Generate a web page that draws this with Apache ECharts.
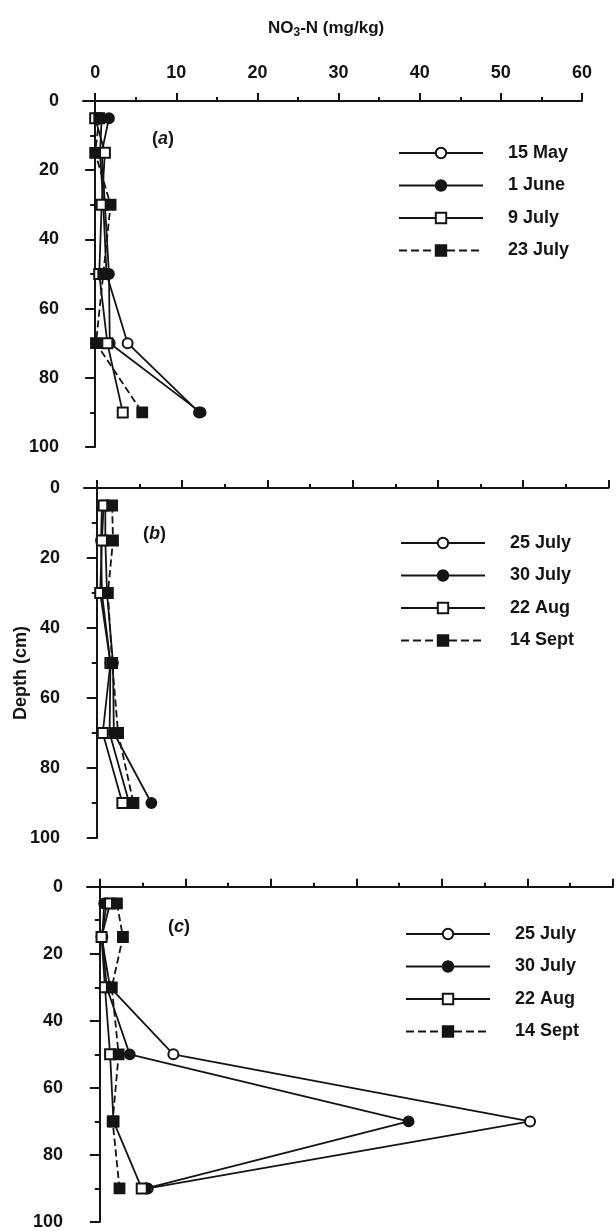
<!DOCTYPE html>
<html>
<head>
<meta charset="utf-8">
<script src="https://cdn.jsdelivr.net/npm/echarts@6/dist/echarts.min.js"></script>
<style>
html,body{margin:0;padding:0;background:#fff;}
#chart{width:616px;height:1231px;}
</style>
</head>
<body>
<div id="chart"></div>
<script>
// Depths (cm) of each sample
const depths = [5, 15, 30, 50, 70, 90];

// Panel (a) NO3-N (mg/kg)
const a_names = ['15 May', '1 June', '9 July', '23 July'];
const a_15May  = [0.8, 0.6, 1.0, 1.4, 4.0, 12.8];
const a_1June  = [1.7, 0.8, 1.2, 1.7, 1.8, 13.0];
const a_9July  = [0.0, 1.2, 0.8, 0.5, 1.5, 3.4];
const a_23July = [0.5, 0.0, 1.9, 1.0, 0.1, 5.8];

// Panel (b)
const b_names = ['25 July', '30 July', '22 Aug', '14 Sept'];
const b_25July = [0.6, 0.5, 0.6, 1.6, 1.5, 3.8];
const b_30July = [1.0, 1.0, 1.2, 1.9, 2.0, 6.4];
const b_22Aug  = [0.8, 0.6, 0.4, 1.6, 0.7, 3.0];
const b_14Sept = [1.8, 1.9, 1.3, 1.8, 2.5, 4.3];

// Panel (c)
const c_names = ['25 July', '30 July', '22 Aug', '14 Sept'];
const c_25July = [0.8, 0.2, 1.2, 8.6, 50.3, 5.6];
const c_30July = [0.5, 0.3, 0.8, 3.5, 36.1, 5.4];
const c_22Aug  = [1.2, 0.2, 0.6, 1.2, 1.6, 4.9];
const c_14Sept = [2.0, 2.7, 1.4, 2.2, 1.5, 2.3];

// Axis ticks / labels
const xMajor = [0, 10, 20, 30, 40, 50, 60];
const xMinor = [5, 15, 25, 35, 45, 55];
const yMajor = [0, 20, 40, 60, 80, 100];
const yMinor = [10, 30, 50, 70, 90];

const INK = '#141414';
const FONT = 'Liberation Sans';

const symbols = ['emptyCircle', 'circle', 'emptyRect', 'rect'];
const lineTypes = ['solid', 'solid', 'solid', 'dashed'];

const panels = [
  { names: a_names, vals: [a_15May, a_1June, a_9July, a_23July], grid: {left: 83, top: 94, width: 499, height: 353}, showX: true,
    legend: {left: 398, top: 144} },
  { names: b_names, vals: [b_25July, b_30July, b_22Aug, b_14Sept], grid: {left: 84, top: 481, width: 524.5, height: 357}, showX: false,
    legend: {left: 400, top: 534} },
  { names: c_names, vals: [c_25July, c_30July, c_22Aug, c_14Sept], grid: {left: 87, top: 880, width: 526, height: 345}, showX: false,
    legend: {left: 405, top: 925} }
];

const grid = [], xAxis = [], yAxis = [], series = [], legend = [];
panels.forEach((p, i) => {
  grid.push(Object.assign({containLabel: false}, p.grid));
  const axLine = {show: true, lineStyle: {color: INK, width: 2}};
  // main x axis
  xAxis.push({
    type: 'value', gridIndex: i, position: 'top', min: -1.5, max: 60,
    axisLine: Object.assign({}, axLine, {onZero: true, onZeroAxisIndex: 2 * i}),
    axisTick: {show: true, length: 8, lineStyle: {color: INK, width: 2}, customValues: xMajor},
    axisLabel: {show: p.showX, customValues: xMajor, margin: 12, color: INK, fontFamily: FONT, fontSize: 18, fontWeight: 'bold'},
    splitLine: {show: false}
  });
  // minor x ticks
  xAxis.push({
    type: 'value', gridIndex: i, position: 'top', offset: 0, min: -1.5, max: 60,
    axisLine: {show: false, onZero: true, onZeroAxisIndex: 2 * i},
    axisTick: {show: true, length: 4, lineStyle: {color: INK, width: 2}, customValues: xMinor},
    axisLabel: {show: false}, splitLine: {show: false}
  });
  // main y axis
  yAxis.push({
    type: 'value', gridIndex: i, position: 'left', inverse: true, min: -2, max: 100,
    axisLine: Object.assign({}, axLine, {onZero: true, onZeroAxisIndex: 2 * i}),
    axisTick: {show: true, length: 10, lineStyle: {color: INK, width: 2}, customValues: yMajor},
    axisLabel: {show: true, customValues: yMajor, margin: 24, color: INK, fontFamily: FONT, fontSize: 18, fontWeight: 'bold'},
    splitLine: {show: false}
  });
  // minor y ticks
  yAxis.push({
    type: 'value', gridIndex: i, position: 'left', offset: 0, inverse: true, min: -2, max: 100,
    axisLine: {show: false, onZero: true, onZeroAxisIndex: 2 * i},
    axisTick: {show: true, length: 5, lineStyle: {color: INK, width: 2}, customValues: yMinor},
    axisLabel: {show: false}, splitLine: {show: false}
  });
  p.names.forEach((nm, k) => {
    series.push({
      type: 'line', name: nm, xAxisIndex: 2 * i, yAxisIndex: 2 * i,
      data: depths.map((d, j) => [p.vals[k][j], d]),
      symbol: symbols[k], symbolSize: 10,
      lineStyle: {color: INK, width: 1.8, type: lineTypes[k]},
      itemStyle: {color: INK, borderColor: INK, borderWidth: 1.8},
      z: 2 + k
    });
  });
  legend.push({
    orient: 'vertical', left: p.legend.left, top: p.legend.top, padding: 0,
    itemWidth: 84, itemHeight: 13, itemGap: 14.5,
    data: p.names.slice(),
    selectedMode: false,
    textStyle: {color: INK, fontFamily: FONT, fontSize: 18, fontWeight: 'bold', padding: [0, 0, 0, 20]}
  });
});

const labelFont = {fontFamily: FONT, fontSize: 18, fontWeight: 'bold', color: INK};
const title = [
  {text: 'NO{s|3}-N (mg/kg)', left: 268, top: 17, padding: 0,
   textStyle: Object.assign({}, labelFont, {fontSize: 17,
     rich: {s: {fontFamily: FONT, fontSize: 12, fontWeight: 'bold', color: INK, padding: [10, 0, 0, 0]}}})},
  {text: '({i|a})', left: 152, top: 130, padding: 0,
   textStyle: Object.assign({}, labelFont, {rich: {i: Object.assign({}, labelFont, {fontStyle: 'italic'})}})},
  {text: '({i|b})', left: 143, top: 525, padding: 0,
   textStyle: Object.assign({}, labelFont, {rich: {i: Object.assign({}, labelFont, {fontStyle: 'italic'})}})},
  {text: '({i|c})', left: 168, top: 918, padding: 0,
   textStyle: Object.assign({}, labelFont, {rich: {i: Object.assign({}, labelFont, {fontStyle: 'italic'})}})}
];

const chart = echarts.init(document.getElementById('chart'), null, {renderer: 'canvas'});
chart.setOption({
  backgroundColor: '#fff',
  animation: false,
  title: title,
  grid: grid, xAxis: xAxis, yAxis: yAxis, series: series, legend: legend,
  graphic: [{
    type: 'text', x: 21, y: 673, rotation: Math.PI / 2,
    style: {text: 'Depth (cm)', align: 'center', verticalAlign: 'middle',
      fontFamily: FONT, fontSize: 18, fontWeight: 'bold', fill: INK}
  }]
});
</script>
</body>
</html>
